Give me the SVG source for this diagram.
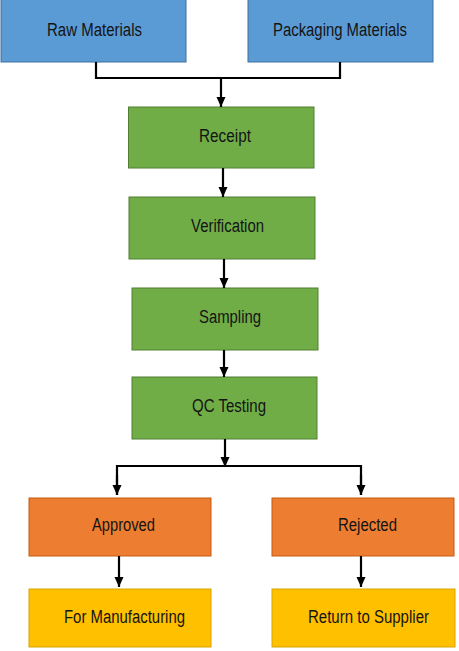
<svg xmlns="http://www.w3.org/2000/svg" width="459" height="651" viewBox="0 0 459 651">
<style>
.blue{fill:#5B9BD5;stroke:#41719C;stroke-width:1}
.green{fill:#70AD47;stroke:#507E32;stroke-width:1}
.orange{fill:#ED7D31;stroke:#C55A11;stroke-width:1}
.yellow{fill:#FFC000;stroke:#D9A300;stroke-width:1}
text{font-family:"Liberation Sans",Arial,sans-serif;font-size:18px;fill:#141414;text-anchor:start}
.c{fill:none;stroke:#000;stroke-width:2.2}
</style>
<defs>
<marker id="ah" markerUnits="userSpaceOnUse" markerWidth="12" markerHeight="12" viewBox="0 0 12 12" refX="10" refY="6" orient="auto">
<path d="M0,1.5 L10,6 L0,10.5 Z" fill="#000"/>
</marker>
</defs>
<rect width="459" height="651" fill="#fff"/>
<g id="raw"><rect class="blue" x="1" y="-1" width="185" height="63"/><text x="47" y="36" textLength="95" lengthAdjust="spacingAndGlyphs">Raw Materials</text></g>
<g id="pack"><rect class="blue" x="248" y="-1" width="185" height="63"/><text x="273" y="36" textLength="134" lengthAdjust="spacingAndGlyphs">Packaging Materials</text></g>
<g id="receipt"><rect class="green" x="128.5" y="107" width="185.5" height="61"/><text x="199" y="142" textLength="52" lengthAdjust="spacingAndGlyphs">Receipt</text></g>
<g id="verification"><rect class="green" x="129" y="197" width="186" height="62"/><text x="191" y="232" textLength="73" lengthAdjust="spacingAndGlyphs">Verification</text></g>
<g id="sampling"><rect class="green" x="132" y="288" width="186" height="62"/><text x="199" y="323" textLength="62" lengthAdjust="spacingAndGlyphs">Sampling</text></g>
<g id="qc"><rect class="green" x="132" y="377" width="185" height="62"/><text x="192" y="412" textLength="74" lengthAdjust="spacingAndGlyphs">QC Testing</text></g>
<g id="approved"><rect class="orange" x="29" y="498" width="182" height="58"/><text x="92" y="531" textLength="63" lengthAdjust="spacingAndGlyphs">Approved</text></g>
<g id="rejected"><rect class="orange" x="272" y="498" width="182" height="58"/><text x="338" y="531" textLength="59" lengthAdjust="spacingAndGlyphs">Rejected</text></g>
<g id="manufacturing"><rect class="yellow" x="29" y="589" width="182" height="58"/><text x="64" y="623" textLength="121" lengthAdjust="spacingAndGlyphs">For Manufacturing</text></g>
<g id="supplier"><rect class="yellow" x="272" y="589" width="183" height="58"/><text x="308" y="623" textLength="121" lengthAdjust="spacingAndGlyphs">Return to Supplier</text></g>
<g id="connectors">
<polyline class="c" points="96,62 96,78 340,78 340,62"/>
<line class="c" x1="221" y1="78" x2="221" y2="107" marker-end="url(#ah)"/>
<line class="c" x1="223" y1="168" x2="223" y2="197" marker-end="url(#ah)"/>
<line class="c" x1="224" y1="259" x2="224" y2="288" marker-end="url(#ah)"/>
<line class="c" x1="224" y1="350" x2="224" y2="377" marker-end="url(#ah)"/>
<line class="c" x1="225" y1="439" x2="225" y2="467" marker-end="url(#ah)"/>
<polyline class="c" points="117,495 117,466 361,466 361,495"/>
<line class="c" x1="117" y1="475" x2="117" y2="495" marker-end="url(#ah)"/>
<line class="c" x1="361" y1="475" x2="361" y2="495" marker-end="url(#ah)"/>
<line class="c" x1="119" y1="556" x2="119" y2="587" marker-end="url(#ah)"/>
<line class="c" x1="361" y1="556" x2="361" y2="587" marker-end="url(#ah)"/>
</g>
</svg>
